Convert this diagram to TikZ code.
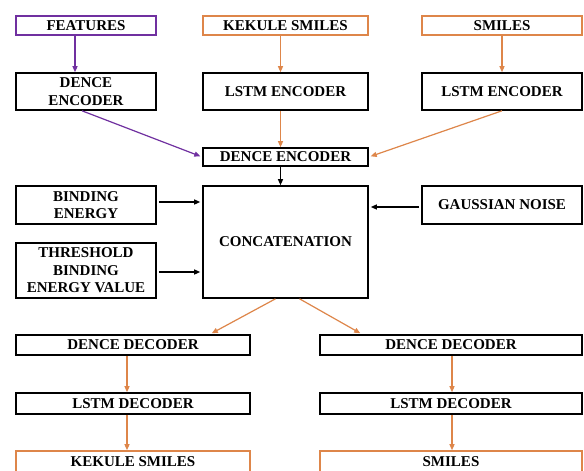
\documentclass[tikz,border=0pt]{standalone}
\usepackage{fontspec}
\setmainfont{Liberation Serif}
\usetikzlibrary{arrows.meta}
\definecolor{orng}{RGB}{222,134,74}
\definecolor{purp}{RGB}{112,48,160}
\tikzset{
  box/.style={draw=black, line width=1.6pt, inner sep=0pt, align=center,
    font=\fontsize{15}{17.5}\selectfont\bfseries},
  obox/.style={box, draw=orng},
  pbox/.style={box, draw=purp},
  arr/.style={line width=1.2pt, -{Triangle[length=6pt,width=5pt]}},
  oarr/.style={arr, draw=orng, -{Triangle[length=6pt,width=5pt,fill=orng]}},
  parr/.style={arr, draw=purp, -{Triangle[length=6pt,width=5pt,fill=purp]}},
  karr/.style={arr, draw=black}
}
\begin{document}
\begin{tikzpicture}[x=1pt,y=-1pt]
\useasboundingbox (0,0) rectangle (584,471);
\clip (0,0) rectangle (584,471);
\fill[white] (0,0) rectangle (584,471);
% top row
\node[pbox, minimum width=140pt, minimum height=19pt] (feat) at (86,25.5) {FEATURES};
\node[obox, minimum width=165pt, minimum height=19pt] (kek) at (285.5,25.5) {KEKULE SMILES};
\node[obox, minimum width=160pt, minimum height=19pt] (smi) at (502,25.5) {SMILES};
% encoders
\node[box, minimum width=140pt, minimum height=37pt] (denc1) at (86,91.5) {DENCE\\ENCODER};
\node[box, minimum width=165pt, minimum height=37pt] (lstm1) at (285.5,91.5) {LSTM ENCODER};
\node[box, minimum width=160pt, minimum height=37pt] (lstm2) at (502,91.5) {LSTM ENCODER};
\node[box, minimum width=165pt, minimum height=18pt] (denc) at (285.5,157) {DENCE ENCODER};
% middle
\node[box, minimum width=165pt, minimum height=112pt] (concat) at (285.5,242) {CONCATENATION};
\node[box, minimum width=140pt, minimum height=38pt] (bind) at (86,205) {BINDING\\ENERGY};
\node[box, minimum width=140pt, minimum height=55pt] (thr) at (86,270.5) {THRESHOLD\\BINDING\\ENERGY VALUE};
\node[box, minimum width=160pt, minimum height=38pt] (gauss) at (502,205) {GAUSSIAN NOISE};
% decoders
\node[box, minimum width=234pt, minimum height=20pt] (ddec1) at (133,345) {DENCE DECODER};
\node[box, minimum width=234pt, minimum height=21pt] (ldec1) at (133,403.5) {LSTM DECODER};
\node[obox, minimum width=234pt, minimum height=22pt] (kek2) at (133,462) {KEKULE SMILES};
\node[box, minimum width=262pt, minimum height=20pt] (ddec2) at (451,345) {DENCE DECODER};
\node[box, minimum width=262pt, minimum height=21pt] (ldec2) at (451,403.5) {LSTM DECODER};
\node[obox, minimum width=262pt, minimum height=22pt] (smi2) at (451,462) {SMILES};
% connectors
\draw[parr] ([xshift=-11pt]feat.south) -- ([xshift=-11pt]denc1.north);
\draw[oarr] ([xshift=-5pt]kek.south) -- ([xshift=-5pt]lstm1.north);
\draw[oarr] (smi.south) -- (lstm2.north);
\draw[parr, shorten >=2pt] ([xshift=-4pt]denc1.south) -- (denc.west);
\draw[oarr, shorten >=2pt] (lstm2.south) -- (denc.east);
\draw[oarr] ([xshift=-5pt]lstm1.south) -- ([xshift=-5pt]denc.north);
\draw[karr] ([xshift=-5pt]denc.south) -- ([xshift=-5pt]concat.north);
\draw[karr, shorten <=2pt, shorten >=2pt] ([yshift=3pt]bind.east) -- ([yshift=3pt]concat.west |- bind.east);
\draw[karr, shorten <=2pt, shorten >=2pt] ([yshift=-1.5pt]thr.east) -- ([yshift=-1.5pt]concat.west |- thr.east);
\draw[karr, shorten <=2pt, shorten >=2pt] ([yshift=-2pt]gauss.west) -- ([yshift=-2pt]concat.east |- gauss.west);
\draw[oarr, shorten >=2pt] ([xshift=-10pt]concat.south) -- ([xshift=77pt]ddec1.north);
\draw[oarr, shorten >=2pt] ([xshift=14pt]concat.south) -- ([xshift=-89pt]ddec2.north);
\draw[oarr] ([xshift=-6pt]ddec1.south) -- ([xshift=-6pt]ldec1.north);
\draw[oarr] ([xshift=-6pt]ldec1.south) -- ([xshift=-6pt]kek2.north);
\draw[oarr] ([xshift=1pt]ddec2.south) -- ([xshift=1pt]ldec2.north);
\draw[oarr] ([xshift=1pt]ldec2.south) -- ([xshift=1pt]smi2.north);
\end{tikzpicture}
\end{document}
